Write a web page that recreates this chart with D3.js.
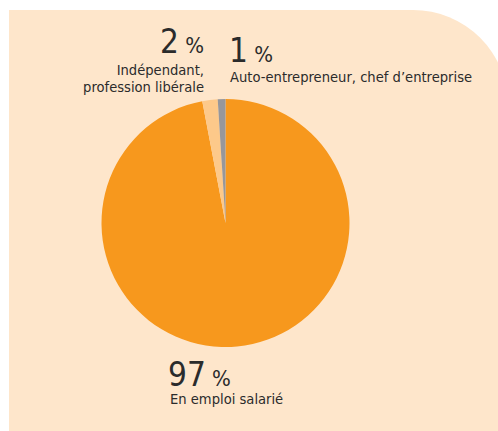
<!DOCTYPE html>
<html>
<head>
<meta charset="utf-8">
<script src="https://cdn.jsdelivr.net/npm/d3@7"></script>
<style>
  body { margin: 0; background: #fff; }
  svg { display: block; }
  text { font-family: "Liberation Sans Narrow", "DejaVu Sans Condensed", "Roboto", sans-serif; fill: #2b2b2b; }
</style>
</head>
<body>
<div id="chart"><svg width="498" height="431"></svg></div>
<script>
const categories = ["En emploi salarié", "Indépendant, profession libérale", "Auto-entrepreneur, chef d’entreprise"];
const values = [97, 2, 1];
const colors = ["#f7981d", "#fdc98a", "#97979b"];

const width = 498;
const height = 431;
const cx = 225.5;
const cy = 223;
const radius = 124;

const svg = d3.select("#chart").select("svg");

// background panel, rounded top-right corner runs off the page
svg
  .append("path")
  .attr("fill", "#fee6cb")
  .attr("d", `M9,10 H413 A95,95 0 0 1 508,105 V${height + 5} H9 Z`);

const pie = d3.pie().sort(null).value((d) => d);
const arc = d3.arc().innerRadius(0).outerRadius(radius);

svg
  .append("g")
  .attr("transform", `translate(${cx}, ${cy})`)
  .selectAll("path")
  .data(pie(values))
  .enter()
  .append("path")
  .attr("d", arc)
  .attr("fill", (d, i) => colors[i]);

// labels: big number + small %, then category text
function bigLabel(x, y, anchor, value) {
  const t = svg
    .append("text")
    .attr("x", x)
    .attr("y", y)
    .attr("text-anchor", anchor);
  t.append("tspan").attr("font-size", 33).text(value);
  t.append("tspan").attr("font-size", 22).text(" %");
}

function smallLabel(x, y, anchor, lines) {
  lines.forEach((line, i) => {
    svg
      .append("text")
      .attr("x", x)
      .attr("y", y + i * 17)
      .attr("text-anchor", anchor)
      .attr("font-size", 14.6)
      .text(line);
  });
}

bigLabel(204, 53, "end", values[1]);
smallLabel(204, 75, "end", ["Indépendant,", "profession libérale"]);

bigLabel(229, 62, "start", values[2]);
smallLabel(230, 82, "start", [categories[2]]);

bigLabel(168, 386, "start", values[0]);
smallLabel(170, 404, "start", [categories[0]]);
</script>
</body>
</html>
